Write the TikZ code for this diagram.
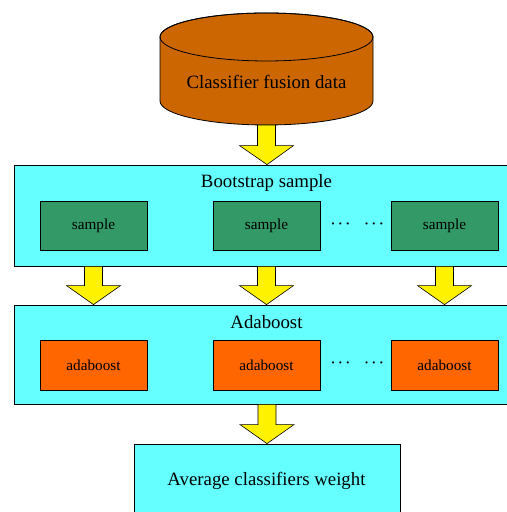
\documentclass[tikz,border=0pt]{standalone}
\usepackage{fontspec}
\setmainfont{Liberation Serif}
\usetikzlibrary{calc,shadows}
\definecolor{drum}{HTML}{CC6600}
\definecolor{pool}{HTML}{66FFFF}
\definecolor{leaf}{HTML}{339966}
\definecolor{ember}{HTML}{FF6600}
\newcommand{\blockarrow}[2]{%
  \draw[fat] let \p1=(#1), \p2=(#2) in
    (\x1-9bp,\y1) -- (\x1+9bp,\y1) -- (\x1+9bp,\y2+19bp) -- (\x1+27bp,\y2+19bp)
    -- (\x2,\y2) -- (\x1-27bp,\y2+19bp) -- (\x1-9bp,\y2+19bp) -- cycle;}
\begin{document}
\begin{tikzpicture}[x=1bp,y=1bp,line width=0.8bp,
    bigtext/.style={font=\fontsize{18.8bp}{22bp}\selectfont},
    smalltext/.style={font=\fontsize{15.2bp}{18bp}\selectfont},
    dotstext/.style={font=\fontsize{15.5bp}{18bp}\selectfont\boldmath},
    panel/.style={draw,fill=pool,minimum height=#1,
      drop shadow={shadow xshift=1bp,shadow yshift=-1.5bp,fill=gray!80,opacity=1}},
    samplebox/.style={draw,fill=leaf,smalltext,minimum width=107bp,minimum height=49bp,inner sep=0pt},
    boostbox/.style={draw,fill=ember,smalltext,minimum width=107bp,minimum height=50bp,inner sep=0pt},
    fat/.style={draw=black,fill=yellow,line width=0.6bp,line join=miter}]
  \useasboundingbox (0,0) rectangle (507,512);
  % data store
  \filldraw[fill=drum] (160,475) -- (160,411)
    arc[start angle=180,end angle=360,x radius=106.5,y radius=24] -- (373,475)
    arc[start angle=0,end angle=180,x radius=106.5,y radius=24] -- cycle;
  \draw (266.5,475) ellipse[x radius=106.5,y radius=24];
  \node[bigtext] (data) at (266.5,430) {Classifier fusion data};
  \coordinate (db) at (266.5,387);
  % bootstrap
  \node[panel=101bp,minimum width=506bp] (boot) at (267,296.5) {};
  \node[bigtext] (bootlbl) at (266.5,329) {Bootstrap sample};
  \node[samplebox] (s1) at (93.5,286.5) {sample};
  \node[samplebox] (s2) at (266.5,286.5) {sample};
  \node[samplebox] (s3) at (444.5,286.5) {sample};
  \node[dotstext] (sd1) at (340.5,288) {$\cdots$};
  \node[dotstext] (sd2) at (374,288) {$\cdots$};
  % adaboost
  \node[panel=99bp,minimum width=506bp] (ada) at (267,157.5) {};
  \node[bigtext] (adalbl) at (266.5,190) {Adaboost};
  \node[boostbox] (a1) at (93.5,147) {adaboost};
  \node[boostbox] (a2) at (266.5,147) {adaboost};
  \node[boostbox] (a3) at (444.5,147) {adaboost};
  \node[dotstext] (ad1) at (340.5,149) {$\cdots$};
  \node[dotstext] (ad2) at (374,149) {$\cdots$};
  % result
  \node[panel=76bp,minimum width=266bp] (avg) at (267,30) {};
  \node[bigtext] (avglbl) at (266.5,31) {Average classifiers weight};
  \blockarrow{db}{boot.north}
  \blockarrow{boot.south -| s1}{ada.north -| s1}
  \blockarrow{boot.south -| s2}{ada.north -| s2}
  \blockarrow{boot.south -| s3}{ada.north -| s3}
  \blockarrow{ada.south -| avg}{avg.north}
\end{tikzpicture}
\end{document}
